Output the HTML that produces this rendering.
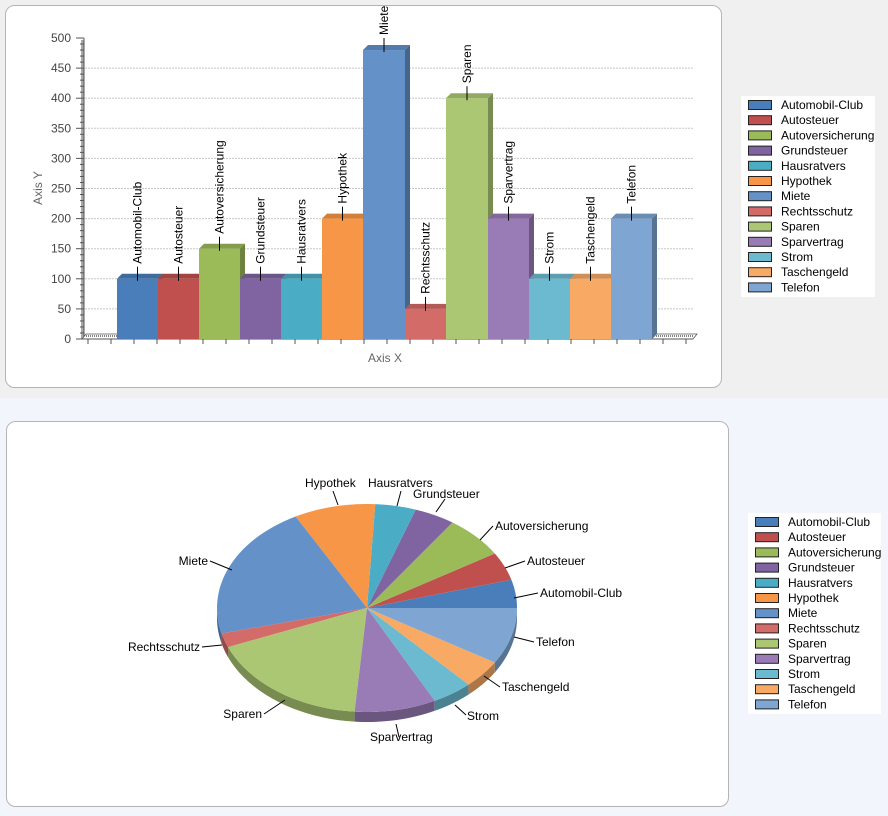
<!DOCTYPE html>
<html><head><meta charset="utf-8">
<style>
body{margin:0;width:888px;height:816px;background:#f0f0f0;font-family:"Liberation Sans",Arial,sans-serif;overflow:hidden}
svg{position:absolute;left:0;top:0}
</style></head>
<body>
<svg id="s" width="888" height="816" xmlns="http://www.w3.org/2000/svg" font-family="Liberation Sans, Arial, sans-serif"></svg>
<script>
const names=["Automobil-Club","Autosteuer","Autoversicherung","Grundsteuer","Hausratvers","Hypothek","Miete","Rechtsschutz","Sparen","Sparvertrag","Strom","Taschengeld","Telefon"];
const vals=[100,100,150,100,100,200,480,50,400,200,100,100,200];
const cols=["#4a7ebb","#c0504d","#9bbb59","#8064a2","#4bacc6","#f79646","#6591c9","#d36b68","#acc774","#997bb6","#6bbad0","#f8a964","#7fa6d2"];
function shade(c,f){let n=parseInt(c.slice(1),16);let r=(n>>16)*f,g=((n>>8)&255)*f,b=(n&255)*f;return `rgb(${r|0},${g|0},${b|0})`;}
let h='';
h+=`<rect x="0" y="398" width="888" height="418" fill="#f2f5fb"/>`;
h+=`<rect x="5.5" y="5.5" width="716" height="382" rx="9" fill="#fff" stroke="#b4b4b4"/>`;
h+=`<rect x="6.5" y="421.5" width="722" height="385" rx="9" fill="#fff" stroke="#b4b4b4"/>`;
const y0=339,sc=301/500;
for(let v=50;v<=450;v+=50){let y=y0-v*sc;h+=`<line x1="85" y1="${y}" x2="693" y2="${y}" stroke="#c8c8c8" stroke-dasharray="2,1"/>`;}
h+=`<rect x="81" y="40" width="3" height="299" fill="#a8a8a8"/><line x1="84" y1="38" x2="84" y2="339" stroke="#555"/>`;
h+=`<polygon points="82,339 693,339 697,334 86,334" fill="#fff" stroke="#555" stroke-width="0.8"/><line x1="86" y1="336" x2="693" y2="336" stroke="#000" stroke-dasharray="1,1"/>`;
for(let v=0;v<=500;v+=10){let y=y0-v*sc;let big=v%50==0;h+=`<line x1="${big?76:80}" y1="${y}" x2="84" y2="${y}" stroke="#555"/>`;if(big)h+=`<text x="71" y="${y+4}" font-size="12" fill="#444" text-anchor="end">${v}</text>`;}
for(let x=88;x<=690;x+=23){h+=`<line x1="${x}" y1="339" x2="${x}" y2="344" stroke="#555"/>`;}
h+=`<line x1="82" y1="339" x2="693" y2="339" stroke="#555"/>`;
h+=`<text x="42" y="188" font-size="12" fill="#666" text-anchor="middle" transform="rotate(-90 42 188)">Axis Y</text>`;
h+=`<text x="385" y="362" font-size="12" fill="#666" text-anchor="middle">Axis X</text>`;
const bx=[117,158,199,240,281,322,363,405,446,488,529,570,611,652];
for(let i=0;i<13;i++){let x=bx[i],w=bx[i+1]-x,t=y0-vals[i]*sc,c=cols[i];
h+=`<polygon points="${x},${t} ${x+5},${t-5} ${x+w+5},${t-5} ${x+w},${t}" fill="${shade(c,0.85)}"/>`;
h+=`<polygon points="${x+w},${t} ${x+w+5},${t-5} ${x+w+5},${y0-5} ${x+w},${y0}" fill="${shade(c,0.7)}"/>`;
h+=`<rect x="${x}" y="${t}" width="${w}" height="${y0-t}" fill="${c}"/>`;
let cx=x+w/2;h+=`<line x1="${cx}" y1="${t+2}" x2="${cx}" y2="${t-12}" stroke="#000"/>`;
h+=`<text x="${cx+4}" y="${t-15}" font-size="12" transform="rotate(-90 ${cx+4} ${t-15})">${names[i]}</text>`;}
function legend(x,y,w,hh){let s=`<rect x="${x}" y="${y}" width="${w}" height="${hh}" fill="#fff"/>`;
for(let i=0;i<13;i++){let yy=y+9+i*15.2;s+=`<rect x="${x+7.5}" y="${yy-4.5}" width="23" height="9" fill="${cols[i]}" stroke="#222"/><text x="${x+40}" y="${yy+4}" font-size="12">${names[i]}</text>`;}return s;}
h+=legend(741,96,134,201);
h+=legend(748,513,133,201);
const cx=367,cy=608,rx=150,ry=104,d=10,tot=vals.reduce((a,b)=>a+b);
function pt(a,dy=0){return [cx+rx*Math.cos(a),cy-ry*Math.sin(a)+dy];}
let a=0,segs=[];for(let i=0;i<13;i++){let a2=a+vals[i]/tot*2*Math.PI;segs.push([a,a2]);a=a2;}
for(let i=0;i<13;i++){let [s,e]=segs[i];let s1=Math.max(s,Math.PI),e1=Math.min(e,2*Math.PI);if(e1<=s1)continue;
let p=[];for(let k=0;k<=20;k++){let t=s1+(e1-s1)*k/20;p.push(pt(t));}for(let k=20;k>=0;k--){let t=s1+(e1-s1)*k/20;p.push(pt(t,d));}
h+=`<polygon points="${p.map(q=>q.join(',')).join(' ')}" fill="${shade(cols[i],0.7)}"/>`;}
for(let i=0;i<13;i++){let [s,e]=segs[i];let p=[[cx,cy]];for(let k=0;k<=30;k++){p.push(pt(s+(e-s)*k/30));}
h+=`<polygon points="${p.map(q=>q.join(',')).join(' ')}" fill="${cols[i]}"/>`;}
// tx,ty,anchor,line x1,y1,x2,y2
const lab=[[540,597,"start",514,598,538,593],[527,565,"start",505,568,525,561],[495,530,"start",480,540,493,526],[413,498,"start",436,512,445,499],[368,487,"start",397,506,401,491],[305,487,"start",338,505,333,491],[208,565,"end",232,570,210,561],[200,651,"end",222,645,202,647],[262,718,"end",285,700,264,714],[370,741,"start",396,724,399,737],[467,720,"start",455,705,466,715],[502,691,"start",484,676,500,687],[536,646,"start",514,637,534,642]];
for(let i=0;i<13;i++){let [tx,ty,an,x1,y1,x2,y2]=lab[i];
h+=`<line x1="${x1}" y1="${y1}" x2="${x2}" y2="${y2}" stroke="#000"/><text x="${tx}" y="${ty}" font-size="12" text-anchor="${an}">${names[i]}</text>`;}
document.getElementById('s').innerHTML=h;
</script>
</body></html>
